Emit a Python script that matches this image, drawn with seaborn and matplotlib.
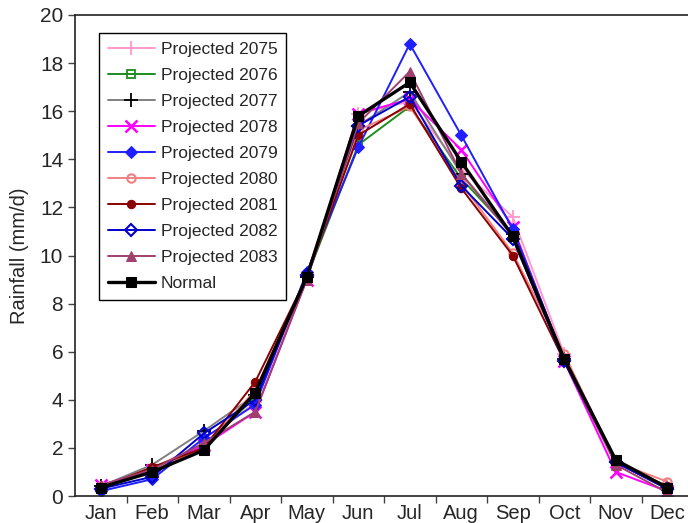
import matplotlib
matplotlib.use("Agg")
import matplotlib.pyplot as plt
import seaborn as sns
import numpy as np
import pandas as pd

months = ["Jan", "Feb", "Mar", "Apr", "May", "Jun", "Jul", "Aug", "Sep", "Oct", "Nov", "Dec"]

p2075 = [0.40, 1.15, 2.20, 3.90, 9.10, 15.90, 16.40, 13.60, 11.60, 5.90, 1.40, 0.40]
p2076 = [0.35, 1.10, 2.10, 4.10, 9.10, 14.60, 16.20, 13.20, 10.90, 5.70, 1.40, 0.35]
p2077 = [0.40, 1.30, 2.70, 4.20, 9.10, 15.40, 16.80, 13.40, 10.90, 5.70, 1.40, 0.35]
p2078 = [0.45, 1.10, 2.10, 3.50, 9.00, 15.90, 16.50, 14.40, 11.20, 5.60, 1.00, 0.20]
p2079 = [0.20, 0.70, 2.40, 3.80, 9.30, 14.50, 18.80, 15.00, 11.10, 5.70, 1.40, 0.30]
p2080 = [0.40, 1.10, 2.00, 4.40, 9.10, 15.20, 16.20, 13.00, 10.10, 5.90, 1.40, 0.60]
p2081 = [0.35, 1.20, 2.00, 4.75, 9.10, 15.00, 16.30, 12.80, 10.00, 5.60, 1.40, 0.40]
p2082 = [0.30, 0.80, 2.60, 4.00, 9.20, 15.40, 16.60, 12.90, 10.70, 5.60, 1.40, 0.30]
p2083 = [0.45, 1.10, 2.20, 3.50, 9.00, 15.50, 17.65, 13.40, 10.80, 5.70, 1.30, 0.15]
normal = [0.35, 1.00, 1.90, 4.30, 9.10, 15.80, 17.20, 13.90, 10.80, 5.70, 1.50, 0.35]

series = [
    ("Projected 2075", p2075, dict(color="#FF99CC", marker="+", mec="#FF99CC", mfc="#FF99CC", ms=10, mew=1.3, lw=1.4)),
    ("Projected 2076", p2076, dict(color="#1E8C1E", marker="s", mec="#1E8C1E", mfc="none", ms=6, mew=1.3, lw=1.4)),
    ("Projected 2077", p2077, dict(color="#808080", marker="+", mec="black", mfc="black", ms=10, mew=1.3, lw=1.4)),
    ("Projected 2078", p2078, dict(color="#FF00FF", marker="x", mec="#FF00FF", mfc="#FF00FF", ms=8, mew=1.8, lw=1.4)),
    ("Projected 2079", p2079, dict(color="#1F1FFF", marker="D", mec="#1F1FFF", mfc="#1F1FFF", ms=6, lw=1.4)),
    ("Projected 2080", p2080, dict(color="#F08080", marker="o", mec="#F08080", mfc="none", ms=6, mew=1.5, lw=1.4)),
    ("Projected 2081", p2081, dict(color="#8B0000", marker="o", mec="#8B0000", mfc="#8B0000", ms=6, lw=1.4)),
    ("Projected 2082", p2082, dict(color="#0000CC", marker="D", mec="#0000CC", mfc="none", ms=6, mew=1.5, lw=1.4)),
    ("Projected 2083", p2083, dict(color="#A0406E", marker="^", mec="#A0406E", mfc="#A0406E", ms=7, lw=1.4)),
    ("Normal", normal, dict(color="black", marker="s", mec="black", mfc="black", ms=7, lw=2.4)),
]

sns.set_style("white")
plt.rcParams["font.family"] = ["Liberation Sans", "DejaVu Sans"]

fig = plt.figure(figsize=(6.88, 5.23), dpi=100)
ax = fig.add_axes([75 / 688, 1 - 496 / 523, 618 / 688, (496 - 15) / 523])

x = np.arange(len(months))
for name, vals, st in series:
    sns.lineplot(x=x, y=vals, ax=ax, label=name, **st)

ax.set_xlim(-0.5, 11.5)
ax.set_ylim(0, 20)
ax.set_yticks(np.arange(0, 21, 2))
ax.set_xticks(x)
ax.set_xticklabels(months)
ax.set_xticks(np.arange(0.5, 11.5, 1), minor=True)
ax.tick_params(axis="x", which="major", length=0, labelsize=14.5, pad=6)
ax.tick_params(axis="x", which="minor", length=5, width=1, direction="out", bottom=True, color="#444444")
ax.tick_params(axis="y", which="major", length=5, width=1, direction="out", left=True, labelsize=15, color="#444444")
ax.set_ylabel("Rainfall (mm/d)", fontsize=14.5, labelpad=8)
ax.set_xlabel("")

for s in ax.spines.values():
    s.set_color("#222222")
    s.set_linewidth(1.2)

leg = ax.legend(loc="upper left", bbox_to_anchor=(0.039, 0.963), fontsize=12.5,
                frameon=True, fancybox=False, edgecolor="black", framealpha=1,
                handlelength=2.7, handletextpad=0.35, labelspacing=0.63, borderpad=0.5,
                borderaxespad=0)
leg.get_frame().set_linewidth(1.0)

fig.savefig("out.png", dpi=100)
